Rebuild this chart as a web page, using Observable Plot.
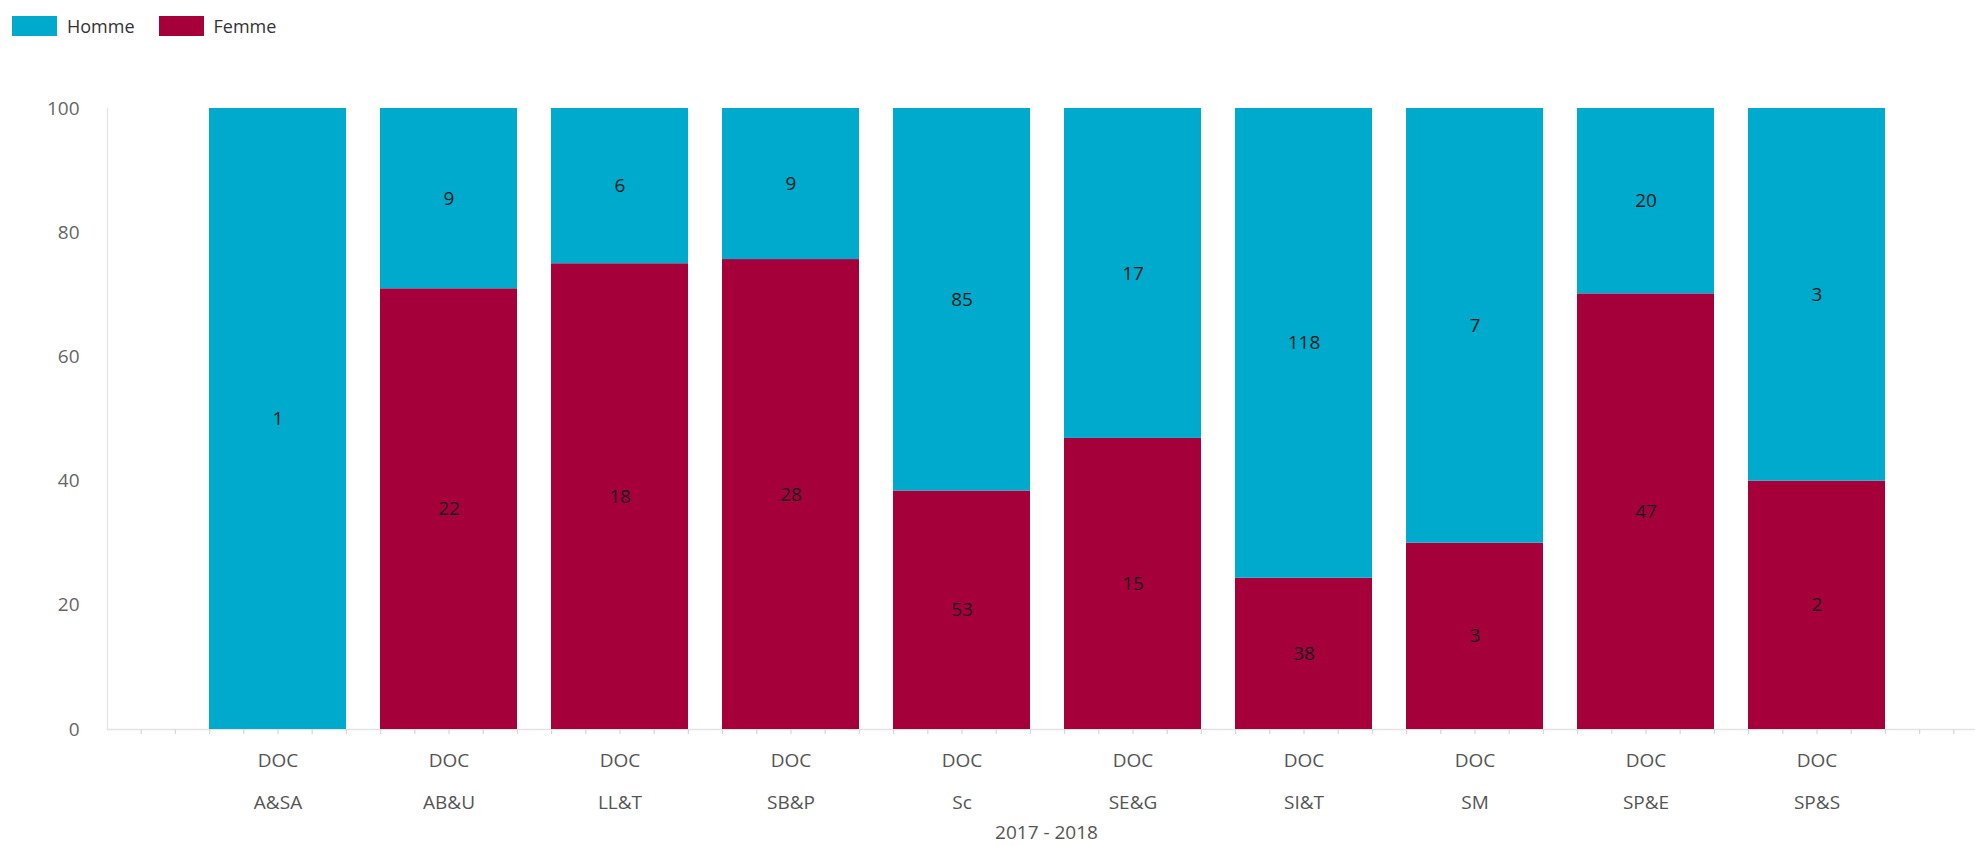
<!DOCTYPE html>
<html>
<head>
<meta charset="utf-8">
<script src="https://cdn.jsdelivr.net/npm/d3@7"></script>
<script src="https://cdn.jsdelivr.net/npm/@observablehq/plot@0.6"></script>
<style>
  html, body { margin: 0; padding: 0; background: #fff; }
  body { font-family: "Open Sans", "Noto Sans", sans-serif; }
  #legend { height: 50px; display: flex; align-items: flex-start; padding-top: 14px; box-sizing: border-box; padding-left: 12px; }
  .item { display: flex; align-items: center; margin-right: 24px; font-size: 18px; color: #333; }
  .sw { width: 45px; height: 20px; margin-right: 10px; }
</style>
</head>
<body>
<div id="legend"></div>
<div id="chart"></div>
<script>
const categories = ["A&SA", "AB&U", "LL&T", "SB&P", "Sc", "SE&G", "SI&T", "SM", "SP&E", "SP&S"];
const homme = [1, 9, 6, 9, 85, 17, 118, 7, 20, 3];
const femme = [0, 22, 18, 28, 53, 15, 38, 3, 47, 2];
const programme = "DOC";
const yearLabel = "2017 - 2018";
const legendOrder = ["Homme", "Femme"];
const stackOrder = ["Femme", "Homme"];
const seriesColors = ["#00AACC", "#A6003A"];
const yTicks = [0, 20, 40, 60, 80, 100];

const rows = [];
categories.forEach((c, i) => {
  rows.push({cat: c, sexe: "Femme", n: femme[i]});
  rows.push({cat: c, sexe: "Homme", n: homme[i]});
});

// legend
const legend = document.getElementById("legend");
legendOrder.forEach((s, i) => {
  const it = document.createElement("div");
  it.className = "item";
  const sw = document.createElement("div");
  sw.className = "sw";
  sw.style.background = seriesColors[i];
  const t = document.createElement("span");
  t.textContent = s;
  it.appendChild(sw); it.appendChild(t);
  legend.appendChild(it);
});

const W = 1975, H = 796;
const step = 34.2; // minor tick spacing in px (one fifth of a band)
const tickMarks = [];
const addTicks = (data, k) => tickMarks.push(Plot.ruleX(data, {x: d => d, y1: 0, y2: 0, dx: k * step, insetTop: 5, stroke: "#d9d9d9", strokeWidth: 1.3}));
for (let k = -2; k <= 2; k++) addTicks(categories, k);
for (const k of [-3, -4]) addTicks([categories[0]], k);
for (const k of [3, 4]) addTicks([categories[categories.length - 1]], k);

const chart = Plot.plot({
  width: W,
  height: H,
  marginTop: 58,
  marginBottom: 117,
  marginLeft: 107,
  marginRight: 0,
  style: {fontFamily: "'Open Sans', 'Noto Sans', sans-serif", background: "#fff"},
  x: {domain: categories, paddingInner: 0.2, paddingOuter: 0.1, insetLeft: 84, insetRight: 73, label: null},
  y: {domain: [0, 100], percent: true, label: null},
  color: {domain: legendOrder, range: seriesColors},
  marks: [
    Plot.gridY(yTicks, {stroke: "#e3e3e3", strokeOpacity: 1, strokeWidth: 1.3}),
    Plot.frame({anchor: "left", stroke: "#e3e3e3", strokeWidth: 1.3}),
    ...tickMarks,
    Plot.barY(rows, Plot.stackY({x: "cat", y: "n", z: "sexe", fill: "sexe", order: stackOrder, offset: "normalize"})),
    Plot.text(rows, Plot.stackY({x: "cat", y: "n", z: "sexe", order: stackOrder, offset: "normalize", text: "n", filter: d => d.n > 0, fontSize: 19, fill: "#1a1a1a"})),
    Plot.axisY({ticks: yTicks, tickFormat: d => d, tickSize: 0, tickPadding: 28, fontSize: 19, color: "#666", label: null}),
    Plot.axisX({tickFormat: () => programme, tickSize: 0, tickPadding: 24, fontSize: 19, color: "#555", label: null}),
    Plot.axisX({tickFormat: d => d, tickSize: 0, tickPadding: 66, fontSize: 19, color: "#555", label: null}),
    Plot.text([yearLabel], {frameAnchor: "bottom", dy: 109, fontSize: 19, fill: "#555", text: d => d, dx: 5})
  ]
});
document.getElementById("chart").appendChild(chart);
</script>
</body>
</html>
